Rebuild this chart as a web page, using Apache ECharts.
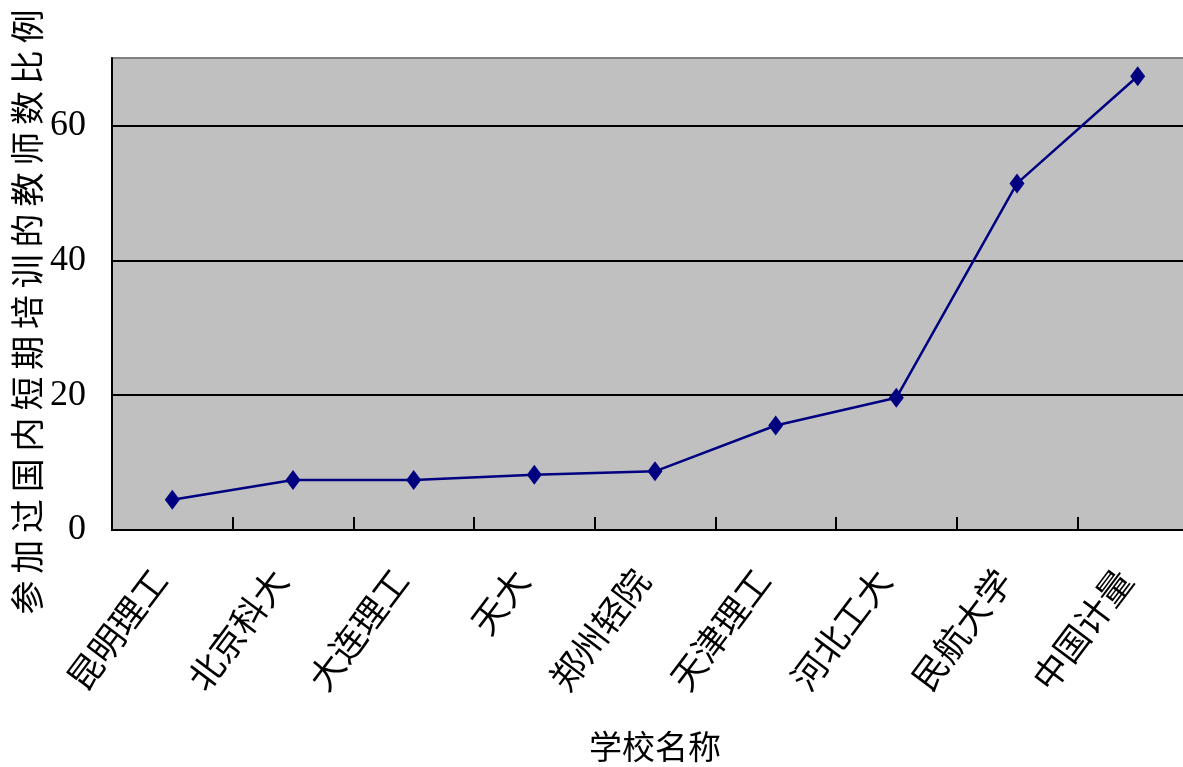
<!DOCTYPE html>
<html><head><meta charset="utf-8">
<script src="https://cdn.jsdelivr.net/npm/echarts@6/dist/echarts.min.js"></script>
<style>html,body{margin:0;padding:0;background:#fff}#c{width:1183px;height:767px}</style>
</head><body><div id="c"></div>
<script>
const categories = ['昆明理工','北京科大','大连理工','天大','郑州轻院','天津理工','河北工大','民航大学','中国计量'];
const values = [4.5, 7.4, 7.4, 8.2, 8.7, 15.5, 19.6, 51.4, 67.3];
const yTicks = [0, 20, 40, 60];
const xTitle = '学校名称';
const yTitle = '参加过国内短期培训的教师数比例';

const chart = echarts.init(document.getElementById('c'));
chart.setOption({
  animation: false,
  grid: {left: 112, top: 58, right: -15, bottom: 237, containLabel: false, outerBoundsMode: 'none',
    show: true, backgroundColor: '#C0C0C0', borderColor: '#808080', borderWidth: 2},
  graphic: [{
    type: 'text', x: 27, y: 312, rotation: Math.PI / 2,
    style: {text: yTitle.split('').join('\u2009'), font: '34px "Noto Sans CJK SC"', fill: '#000', align: 'center', verticalAlign: 'middle'}
  }],
  xAxis: {
    type: 'category', data: categories, boundaryGap: true,
    name: xTitle, nameLocation: 'middle', nameGap: 200,
    nameTextStyle: {fontFamily: 'Noto Sans CJK SC', fontSize: 33, color: '#000'},
    axisLine: {show: true, lineStyle: {color: '#000', width: 2}},
    axisTick: {show: true, inside: true, length: 13, lineStyle: {color: '#000', width: 2}},
    axisLabel: {rotate: 53, margin: 26, padding: [0, 22, 0, 0], interval: 0, fontFamily: 'Noto Sans CJK SC', fontSize: 35, color: '#000'}
  },
  yAxis: {
    type: 'value', min: 0, max: 70, interval: 20,
    axisLine: {show: true, lineStyle: {color: '#000', width: 2}},
    axisTick: {show: false},
    axisLabel: {showMaxLabel: false, margin: 26, fontFamily: 'Liberation Serif', fontSize: 36, color: '#000',
      formatter: v => yTicks.includes(v) ? String(v) : ''},
    splitLine: {show: true, lineStyle: {color: ['#000','#000','#000','#000','#808080'], width: 2}}
  },
  series: [{
    type: 'line', data: values, symbol: 'diamond', symbolSize: [15, 20],
    lineStyle: {color: '#000080', width: 2.5}, itemStyle: {color: '#000080'}
  }]
});
</script></body></html>
